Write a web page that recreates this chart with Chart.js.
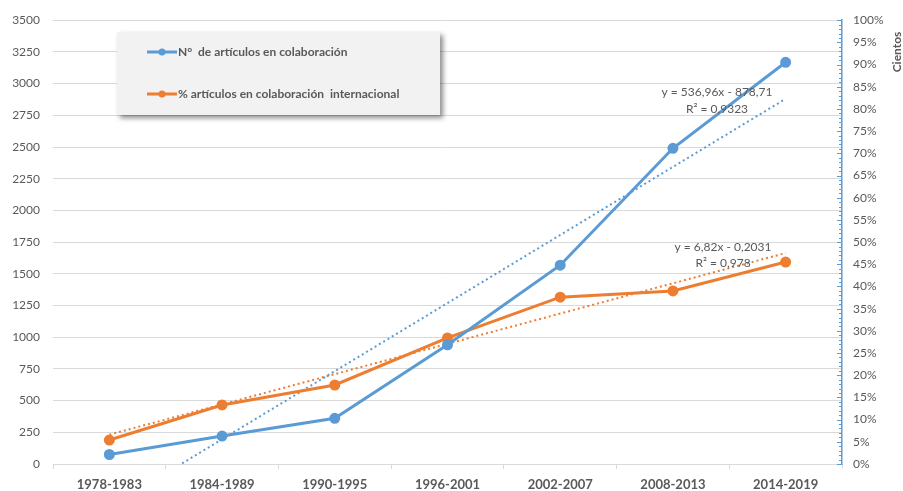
<!DOCTYPE html>
<html>
<head>
<meta charset="utf-8">
<script src="https://cdn.jsdelivr.net/npm/chart.js@4/dist/chart.umd.min.js"></script>
<style>
    body { margin: 0; background: #fff; }
    #wrap { width: 903px; height: 491px; }
</style>
</head>
<body>
<div id="wrap"><canvas id="chart" width="903" height="491"></canvas></div>
<script>
// Chart data
const periods = ['1978-1983', '1984-1989', '1990-1995', '1996-2001', '2002-2007', '2008-2013', '2014-2019'];
const articulos = [75, 220, 360, 940, 1568, 2490, 3168];
const pctInternacional = [5.4, 13.3, 17.8, 28.4, 37.6, 39.0, 45.5];

// Trendline equations as shown in the chart: [slope, intercept, r2]
const trendArticulos = [536.96, -878.71, 0.9323];
const trendPct = [6.82, -0.2031, 0.978];

const leftTicks = { min: 0, max: 3500, step: 250 };
const rightTicks = { min: 0, max: 100, step: 5 };

const BLUE = '#5b9bd5';
const ORANGE = '#ed7d31';
const GRID = '#d9d9d9';
const TEXT = '#595959';
const FONT = 'Lato, "Noto Sans", sans-serif';

// Two-point trendline: first and last category only, gap spanned
function trendSeries(eq) {
    const data = periods.map(() => null);
    data[0] = eq[0] * 1 + eq[1];
    data[periods.length - 1] = eq[0] * periods.length + eq[1];
    return data;
}

function fmt(n) {
    return String(Math.abs(n)).replace('.', ',');
}

function eqText(eq) {
    return 'y = ' + fmt(eq[0]) + 'x ' + (eq[1] < 0 ? '- ' : '+ ') + fmt(eq[1]);
}

// Extra drawing: minor ticks on the right axis, legend box, trend labels, axis title
const extras = {
    id: 'extras',
    afterDraw(chart) {
        const ctx = chart.ctx;
        const y1 = chart.scales.y1;
        const area = chart.chartArea;

        // minor ticks on the blue right axis
        ctx.save();
        ctx.strokeStyle = BLUE;
        ctx.lineWidth = 1;
        for (let v = rightTicks.min; v <= rightTicks.max; v += 1) {
            const py = Math.round(y1.getPixelForValue(v)) + 0.5;
            const len = v % rightTicks.step === 0 ? 5 : 3;
            ctx.beginPath();
            ctx.moveTo(area.right - len, py);
            ctx.lineTo(area.right, py);
            ctx.stroke();
        }
        ctx.restore();

        // legend box
        ctx.save();
        ctx.shadowColor = 'rgba(0,0,0,0.45)';
        ctx.shadowBlur = 5;
        ctx.shadowOffsetX = 3;
        ctx.shadowOffsetY = 3;
        ctx.fillStyle = '#f2f2f2';
        ctx.fillRect(117, 32, 323, 83);
        ctx.restore();

        const items = [
            { color: BLUE, text: 'N°  de artículos en colaboración', y: 52 },
            { color: ORANGE, text: '% artículos en colaboración  internacional', y: 94 }
        ];
        ctx.save();
        items.forEach(it => {
            ctx.strokeStyle = it.color;
            ctx.lineWidth = 3;
            ctx.beginPath();
            ctx.moveTo(147, it.y);
            ctx.lineTo(177, it.y);
            ctx.stroke();
            ctx.fillStyle = it.color;
            ctx.beginPath();
            ctx.arc(162, it.y, 3.5, 0, Math.PI * 2);
            ctx.fill();
            ctx.fillStyle = TEXT;
            ctx.font = 'bold 12px ' + FONT;
            ctx.textBaseline = 'middle';
            ctx.textAlign = 'left';
            ctx.fillText(it.text, 178, it.y);
        });
        ctx.restore();

        // trendline labels
        ctx.save();
        ctx.fillStyle = TEXT;
        ctx.font = '12px ' + FONT;
        ctx.textAlign = 'center';
        ctx.textBaseline = 'middle';
        ctx.fillText(eqText(trendArticulos), 717, 92);
        ctx.fillText('R² = ' + fmt(trendArticulos[2]), 717, 109);
        ctx.fillText(eqText(trendPct), 723, 247);
        ctx.fillText('R² = ' + fmt(trendPct[2]), 723, 263);
        ctx.restore();

        // right axis title
        ctx.save();
        ctx.translate(897, 52);
        ctx.rotate(-Math.PI / 2);
        ctx.fillStyle = TEXT;
        ctx.font = 'bold 12px ' + FONT;
        ctx.textAlign = 'center';
        ctx.textBaseline = 'middle';
        ctx.fillText('Cientos', 0, 0);
        ctx.restore();
    }
};

new Chart(document.getElementById('chart').getContext('2d'), {
    type: 'line',
    data: {
        labels: periods,
        datasets: [
            {
                label: 'N° de artículos en colaboración',
                data: articulos,
                yAxisID: 'y',
                borderColor: BLUE,
                backgroundColor: BLUE,
                borderWidth: 3,
                pointRadius: 4,
                pointHoverRadius: 4,
                tension: 0,
                order: 1
            },
            {
                label: '% artículos en colaboración internacional',
                data: pctInternacional,
                yAxisID: 'y1',
                borderColor: ORANGE,
                backgroundColor: ORANGE,
                borderWidth: 3,
                pointRadius: 4,
                pointHoverRadius: 4,
                tension: 0,
                order: 2
            },
            {
                label: 'trend blue',
                data: trendSeries(trendArticulos),
                yAxisID: 'y',
                borderColor: BLUE,
                borderWidth: 2,
                borderDash: [2, 3],
                pointRadius: 0,
                spanGaps: true,
                order: 3
            },
            {
                label: 'trend orange',
                data: trendSeries(trendPct),
                yAxisID: 'y1',
                borderColor: ORANGE,
                borderWidth: 2,
                borderDash: [2, 3],
                pointRadius: 0,
                spanGaps: true,
                order: 3
            }
        ]
    },
    options: {
        responsive: false,
        animation: false,
        layout: { padding: { top: 20, left: 0, right: 0, bottom: 0 } },
        plugins: {
            legend: { display: false },
            tooltip: { enabled: false }
        },
        scales: {
            x: {
                offset: true,
                afterFit(scale) { scale.height = 27; },
                grid: {
                    offset: true,
                    drawOnChartArea: false,
                    drawTicks: true,
                    tickLength: 5,
                    color: GRID
                },
                border: { color: GRID, width: 1 },
                ticks: {
                    padding: 8,
                    maxRotation: 0,
                    color: TEXT,
                    font: { family: FONT, size: 13, weight: 'bold' }
                }
            },
            y: {
                position: 'left',
                min: leftTicks.min,
                max: leftTicks.max,
                afterFit(scale) { scale.width = 53; },
                grid: { color: GRID, drawTicks: false },
                border: { display: false },
                ticks: {
                    stepSize: leftTicks.step,
                    padding: 13,
                    color: TEXT,
                    font: { family: FONT, size: 12 },
                    callback: v => String(v)
                }
            },
            y1: {
                position: 'right',
                min: rightTicks.min,
                max: rightTicks.max,
                afterFit(scale) { scale.width = 61; },
                grid: { drawOnChartArea: false, drawTicks: false },
                border: { color: BLUE, width: 1.5 },
                ticks: {
                    stepSize: rightTicks.step,
                    padding: 11,
                    color: TEXT,
                    font: { family: FONT, size: 12 },
                    callback: v => v + '%'
                }
            }
        }
    },
    plugins: [extras]
});
</script>
</body>
</html>
